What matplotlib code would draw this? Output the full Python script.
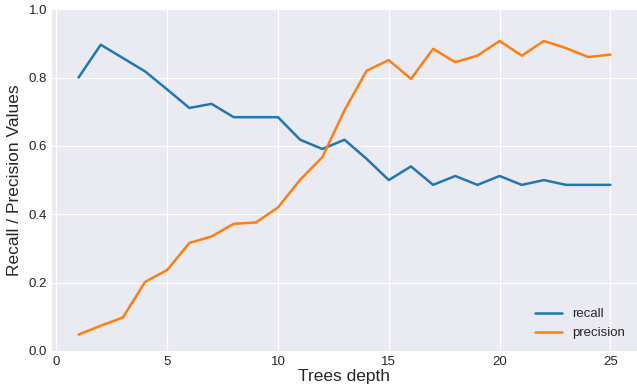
import matplotlib
matplotlib.use("Agg")
import matplotlib.pyplot as plt

# tree depth vs recall / precision
depth = list(range(1, 26))
recall = [0.800, 0.896, 0.857, 0.818, 0.765, 0.711, 0.723, 0.684, 0.684, 0.684,
          0.618, 0.591, 0.618, 0.562, 0.500, 0.540, 0.486, 0.512, 0.486, 0.512,
          0.486, 0.500, 0.486, 0.486, 0.486]
precision = [0.048, 0.074, 0.098, 0.202, 0.237, 0.316, 0.335, 0.372, 0.376, 0.420,
             0.501, 0.567, 0.704, 0.820, 0.851, 0.796, 0.884, 0.845, 0.864, 0.907,
             0.864, 0.907, 0.886, 0.860, 0.867]

plt.style.use("seaborn-v0_8-darkgrid")
plt.rcParams["font.family"] = ["Liberation Sans", "DejaVu Sans"]

fig = plt.figure(figsize=(6.37, 3.92), dpi=100)
ax = fig.add_axes([0.0816, 0.1046, 0.9184, 0.872])

ax.plot(depth, recall, color="#1f77b4", linewidth=1.8, label="recall")
ax.plot(depth, precision, color="#ff7f0e", linewidth=1.8, label="precision")

ax.set_ylim(0, 1)
ax.set_xlabel("Trees depth", fontsize=12.5, labelpad=1)
ax.set_ylabel("Recall / Precision Values", fontsize=12.5, labelpad=5)
ax.tick_params(labelsize=9.5)
ax.legend(loc="lower right", fontsize=9.5, frameon=False)

fig.savefig("out.png", dpi=100)
